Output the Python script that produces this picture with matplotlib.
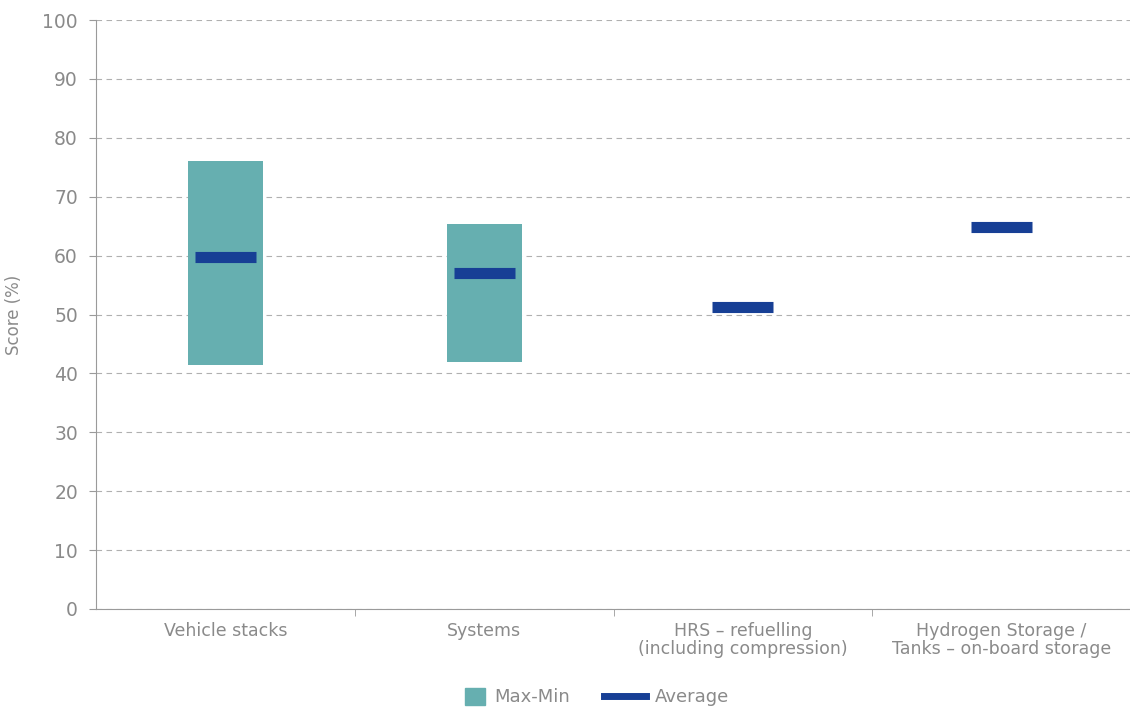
import matplotlib
matplotlib.use("Agg")
import matplotlib.pyplot as plt
from matplotlib.patches import Patch
from matplotlib.lines import Line2D

# data
categories = ["Vehicle stacks", "Systems", "HRS \u2013 refuelling\n(including compression)",
              "Hydrogen Storage /\nTanks \u2013 on-board storage"]
max_vals = [76.1, 65.4, None, None]
min_vals = [41.4, 41.9, None, None]
avg_vals = [59.7, 57.0, 51.2, 64.9]

plt.rcParams["font.family"] = "DejaVu Sans"

teal = "#66AFB0"
navy = "#173F95"
grey = "#8a8a8a"

fig = plt.figure(figsize=(11.3, 7.11), dpi=100)
ax = fig.add_axes([96 / 1130, 1 - 609 / 711, 1035 / 1130, 589 / 711])

x = list(range(len(categories)))
for i in x:
    if max_vals[i] is not None:
        ax.bar(i, max_vals[i] - min_vals[i], bottom=min_vals[i], width=0.29, color=teal, zorder=2)
    ax.hlines(avg_vals[i], i - 0.118, i + 0.118, color=navy, linewidth=8, zorder=3)

ax.set_xlim(-0.5, len(categories) - 0.5)
ax.set_ylim(0, 100)
ax.set_yticks(range(0, 101, 10))
ax.yaxis.grid(True, linestyle=(0, (5, 4)), color="#b0b0b0", linewidth=0.8, zorder=0)
ax.set_axisbelow(True)

ax.set_xticks(x)
ax.set_xticklabels(categories, color=grey, fontsize=12.5, linespacing=1.05)
ax.set_xticks([i + 0.5 for i in x[:-1]], minor=True)
ax.tick_params(axis="x", which="major", length=0, pad=9)
ax.tick_params(axis="x", which="minor", length=5, color="#9a9a9a")
ax.tick_params(axis="y", length=5, color="#9a9a9a", labelcolor=grey, labelsize=13.5, pad=8)

for s in ["top", "right"]:
    ax.spines[s].set_visible(False)
for s in ["left", "bottom"]:
    ax.spines[s].set_color("#9a9a9a")

ax.set_ylabel("Score (%)", color=grey, fontsize=12, labelpad=14)

# two legends so the square and the line can have different handle lengths
ly = 1 - 697 / 711
leg1 = fig.legend(handles=[Patch(color=teal, label="Max-Min")], loc="center right",
                  bbox_to_anchor=(570 / 1130, ly), frameon=False, fontsize=13, labelcolor=grey,
                  handlelength=1.1, handleheight=1.1, handletextpad=0.5, borderpad=0, borderaxespad=0)
leg2 = fig.legend(handles=[Line2D([], [], color=navy, linewidth=5, label="Average")], loc="center left",
                  bbox_to_anchor=(604 / 1130, ly), frameon=False, fontsize=13, labelcolor=grey,
                  handlelength=2.3, handletextpad=0.5, borderpad=0, borderaxespad=0)

fig.savefig("out.png", dpi=100)
